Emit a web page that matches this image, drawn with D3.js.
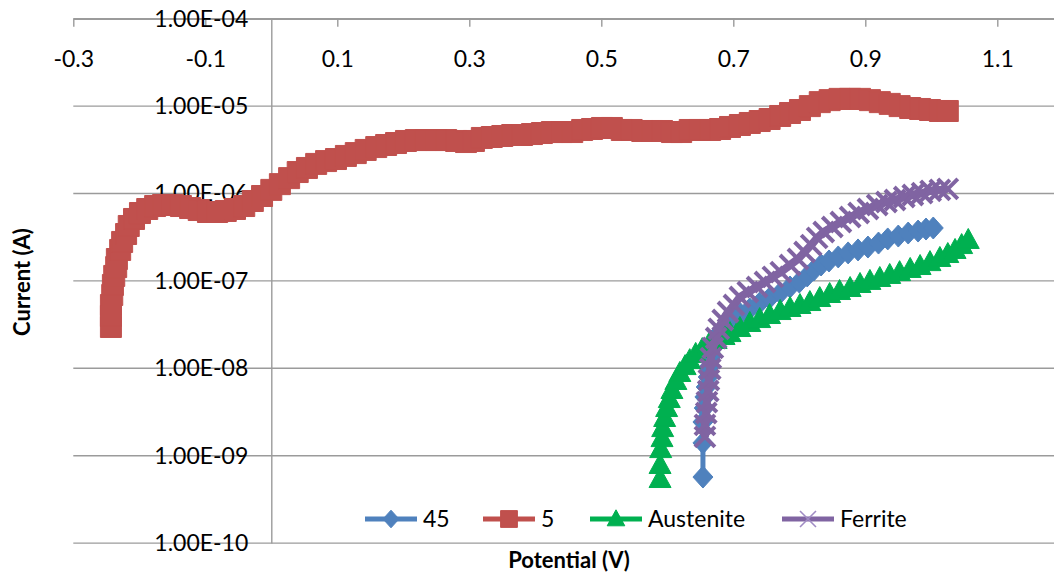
<!DOCTYPE html>
<html>
<head>
<meta charset="utf-8">
<script src="https://cdn.jsdelivr.net/npm/d3@7"></script>
<style>
  body { margin: 0; background: #fff; }
  svg { display: block; }
  text { font-family: Lato, "Open Sans", sans-serif; fill: #000; }
</style>
</head>
<body>
<svg id="chart" width="1054" height="579"></svg>
<script>
// Axis ticks
const xTickValues = [-0.3, -0.1, 0.1, 0.3, 0.5, 0.7, 0.9, 1.1];
const yTickValues = [1e-4, 1e-5, 1e-6, 1e-7, 1e-8, 1e-9, 1e-10];

// Series: [potential (V), current (A)]
const seriesNames = ["45", "5", "Austenite", "Ferrite"];
const seriesColors = ["#4F81BD", "#C0504D", "#00B050", "#8064A2"];

const data45 = [
  [0.654, 5.70e-10], [0.654, 1.40e-9], [0.654, 2.43e-9], [0.656, 3.51e-9], [0.657, 4.70e-9],
  [0.659, 6.11e-9], [0.662, 7.95e-9], [0.663, 1.03e-8], [0.666, 1.35e-8], [0.669, 1.71e-8],
  [0.674, 2.11e-8], [0.680, 2.60e-8], [0.689, 3.13e-8], [0.699, 3.66e-8], [0.711, 4.18e-8],
  [0.725, 4.77e-8], [0.740, 5.59e-8], [0.755, 6.37e-8], [0.771, 7.27e-8], [0.786, 8.52e-8],
  [0.800, 9.71e-8], [0.812, 1.14e-7], [0.822, 1.33e-7], [0.833, 1.52e-7], [0.845, 1.69e-7],
  [0.859, 1.88e-7], [0.874, 2.09e-7], [0.889, 2.26e-7], [0.904, 2.44e-7], [0.920, 2.71e-7],
  [0.934, 3.02e-7], [0.950, 3.26e-7], [0.965, 3.53e-7], [0.980, 3.72e-7], [0.992, 3.92e-7],
  [1.003, 4.03e-7]
];

const data5 = [
  [-0.243, 2.97e-8], [-0.243, 3.97e-8], [-0.243, 5.30e-8], [-0.241, 6.90e-8], [-0.240, 8.98e-8],
  [-0.238, 1.14e-7], [-0.235, 1.44e-7], [-0.234, 1.78e-7], [-0.229, 2.26e-7], [-0.226, 2.79e-7],
  [-0.220, 3.44e-7], [-0.216, 4.25e-7], [-0.208, 5.11e-7], [-0.199, 5.98e-7], [-0.188, 6.65e-7],
  [-0.176, 7.19e-7], [-0.164, 7.39e-7], [-0.150, 7.39e-7], [-0.137, 7.19e-7], [-0.123, 6.82e-7],
  [-0.110, 6.47e-7], [-0.096, 6.14e-7], [-0.082, 6.14e-7], [-0.069, 6.31e-7], [-0.055, 6.65e-7],
  [-0.041, 7.19e-7], [-0.028, 8.21e-7], [-0.014, 9.36e-7], [0.000, 1.10e-6], [0.013, 1.28e-6],
  [0.027, 1.50e-6], [0.040, 1.76e-6], [0.054, 1.96e-6], [0.068, 2.18e-6], [0.083, 2.35e-6],
  [0.098, 2.48e-6], [0.113, 2.69e-6], [0.128, 2.90e-6], [0.143, 3.15e-6], [0.159, 3.40e-6],
  [0.174, 3.59e-6], [0.189, 3.78e-6], [0.204, 3.99e-6], [0.219, 4.09e-6], [0.234, 4.09e-6],
  [0.250, 4.09e-6], [0.265, 4.09e-6], [0.280, 3.99e-6], [0.295, 3.88e-6], [0.307, 3.99e-6],
  [0.319, 4.32e-6], [0.334, 4.43e-6], [0.350, 4.55e-6], [0.365, 4.67e-6], [0.380, 4.67e-6],
  [0.395, 4.79e-6], [0.410, 4.92e-6], [0.425, 5.05e-6], [0.440, 5.05e-6], [0.456, 5.05e-6],
  [0.471, 5.33e-6], [0.486, 5.47e-6], [0.501, 5.62e-6], [0.516, 5.62e-6], [0.531, 5.33e-6],
  [0.546, 5.33e-6], [0.562, 5.19e-6], [0.577, 5.19e-6], [0.592, 5.19e-6], [0.607, 5.05e-6],
  [0.621, 5.05e-6], [0.634, 5.33e-6], [0.649, 5.33e-6], [0.665, 5.33e-6], [0.680, 5.47e-6],
  [0.695, 5.77e-6], [0.710, 6.08e-6], [0.725, 6.41e-6], [0.740, 6.75e-6], [0.755, 7.12e-6],
  [0.771, 7.71e-6], [0.786, 8.34e-6], [0.801, 9.02e-6], [0.816, 1.00e-5], [0.831, 1.11e-5],
  [0.846, 1.17e-5], [0.861, 1.21e-5], [0.877, 1.21e-5], [0.892, 1.21e-5], [0.907, 1.17e-5],
  [0.922, 1.11e-5], [0.937, 1.06e-5], [0.952, 1.00e-5], [0.968, 9.51e-6], [0.983, 9.27e-6],
  [0.998, 9.02e-6], [1.013, 8.79e-6], [1.025, 8.79e-6]
];

const dataAustenite = [
  [0.589, 5.41e-10], [0.589, 7.83e-10], [0.590, 1.19e-9], [0.592, 1.59e-9], [0.593, 2.07e-9],
  [0.596, 2.70e-9], [0.599, 3.51e-9], [0.603, 4.45e-9], [0.607, 5.65e-9], [0.613, 7.16e-9],
  [0.619, 8.84e-9], [0.627, 1.06e-8], [0.634, 1.24e-8], [0.643, 1.46e-8], [0.653, 1.66e-8],
  [0.663, 1.89e-8], [0.674, 2.11e-8], [0.686, 2.34e-8], [0.695, 2.53e-8], [0.710, 2.89e-8],
  [0.725, 3.30e-8], [0.740, 3.66e-8], [0.755, 4.07e-8], [0.771, 4.52e-8], [0.786, 4.90e-8],
  [0.801, 5.30e-8], [0.816, 5.73e-8], [0.831, 6.37e-8], [0.846, 7.08e-8], [0.861, 7.66e-8],
  [0.877, 8.29e-8], [0.892, 9.22e-8], [0.907, 1.00e-7], [0.922, 1.08e-7], [0.937, 1.17e-7],
  [0.952, 1.26e-7], [0.968, 1.37e-7], [0.983, 1.48e-7], [0.998, 1.64e-7], [1.013, 1.83e-7],
  [1.025, 2.03e-7], [1.036, 2.26e-7], [1.046, 2.57e-7], [1.056, 2.94e-7]
];

const dataFerrite = [
  [0.657, 1.64e-9], [0.657, 2.25e-9], [0.659, 3.08e-9], [0.660, 4.11e-9], [0.662, 5.50e-9],
  [0.663, 7.35e-9], [0.665, 9.82e-9], [0.666, 1.31e-8], [0.669, 1.71e-8], [0.674, 2.22e-8],
  [0.678, 2.82e-8], [0.684, 3.57e-8], [0.692, 4.41e-8], [0.701, 5.30e-8], [0.710, 6.54e-8],
  [0.722, 7.46e-8], [0.736, 8.52e-8], [0.748, 9.71e-8], [0.760, 1.11e-7], [0.772, 1.26e-7],
  [0.786, 1.52e-7], [0.798, 1.78e-7], [0.808, 2.14e-7], [0.818, 2.57e-7], [0.827, 3.10e-7],
  [0.837, 3.63e-7], [0.850, 4.14e-7], [0.863, 4.72e-7], [0.877, 5.38e-7], [0.890, 5.98e-7],
  [0.904, 6.65e-7], [0.918, 7.39e-7], [0.932, 7.99e-7], [0.945, 8.43e-7], [0.959, 9.12e-7],
  [0.972, 9.61e-7], [0.986, 1.01e-6], [0.999, 1.07e-6], [1.013, 1.10e-6], [1.025, 1.13e-6]
];

const seriesData = [data45, data5, dataAustenite, dataFerrite];

const width = 1054;
const svg = d3.select("#chart");

const x = d3.scaleLinear().domain([-0.3, 1.2]).range([73.3, 1063.3]);
const y = d3.scaleLog().domain([1e-10, 1e-4]).range([543.1, 18.7]);

const gridColor = "#9b9b9b";
const fontSize = 23;

const sciFormat = v => {
  const e = Math.round(Math.log10(v));
  return "1.00E" + (e < 0 ? "-" : "+") + String(Math.abs(e)).padStart(2, "0");
};

// horizontal gridlines
svg.append("g")
  .selectAll("line")
  .data(yTickValues)
  .join("line")
  .attr("x1", x(-0.3)).attr("x2", width)
  .attr("y1", d => y(d)).attr("y2", d => y(d))
  .attr("stroke", gridColor).attr("stroke-width", 1.4);

// potential axis, drawn along the top edge
const xAxis = svg.append("g")
  .attr("transform", `translate(0,${y(1e-4)})`)
  .call(d3.axisBottom(x).tickValues(xTickValues).tickSize(8).tickSizeOuter(0)
    .tickPadding(24).tickFormat(d => d.toFixed(1)));
xAxis.select(".domain").attr("stroke", gridColor).attr("stroke-width", 1.4);
xAxis.selectAll(".tick line").attr("stroke", gridColor).attr("stroke-width", 1.4);
xAxis.selectAll(".tick text").attr("font-size", fontSize).attr("font-family", null).attr("fill", "#000");

// current axis, crossing at 0 V
const yAxis = svg.append("g")
  .attr("transform", `translate(${x(0)},0)`)
  .call(d3.axisLeft(y).tickValues(yTickValues).tickSize(0).tickSizeOuter(0)
    .tickPadding(23).tickFormat(sciFormat));
yAxis.select(".domain").attr("stroke", gridColor).attr("stroke-width", 1.4);
yAxis.selectAll(".tick text").attr("font-size", fontSize).attr("font-family", null).attr("fill", "#000");

// marker shapes (s scales plot size down for the legend)
const markerPath = [
  s => `M0,${-11 * s}L${10 * s},0L0,${11 * s}L${-10 * s},0Z`,                       // diamond
  s => `M${-10.5 * s},${-10.5 * s}H${10.5 * s}V${10.5 * s}H${-10.5 * s}Z`,           // square
  s => `M0,${-11.5 * s}L${11 * s},${8.5 * s}L${-11 * s},${8.5 * s}Z`,                // triangle
  s => `M${-10 * s},${-10 * s}L${10 * s},${10 * s}M${-10 * s},${10 * s}L${10 * s},${-10 * s}` // cross
];

function drawMarker(sel, i, s) {
  const p = sel.append("path").attr("d", markerPath[i](s));
  if (i === 3) {
    p.attr("fill", "none").attr("stroke", seriesColors[i]).attr("stroke-width", 4);
  } else {
    p.attr("fill", seriesColors[i]).attr("stroke", seriesColors[i]).attr("stroke-width", 1);
  }
  return p;
}

const line = d3.line().x(d => x(d[0])).y(d => y(d[1]));

seriesData.forEach((data, i) => {
  const g = svg.append("g").attr("class", "series");
  g.append("path")
    .datum(data)
    .attr("d", line)
    .attr("fill", "none")
    .attr("stroke", seriesColors[i])
    .attr("stroke-width", i === 3 ? 8 : 5)
    .attr("stroke-linejoin", "round");
  g.selectAll("g.pt")
    .data(data)
    .join("g")
    .attr("class", "pt")
    .attr("transform", d => `translate(${x(d[0])},${y(d[1])})`)
    .each(function () { drawMarker(d3.select(this), i, 1); });
});

// legend
const legendY = 519;
const legendStarts = [365, 483, 590, 782];
const legend = svg.append("g");
seriesNames.forEach((name, i) => {
  const g = legend.append("g").attr("transform", `translate(${legendStarts[i]},${legendY})`);
  g.append("line").attr("x1", 0).attr("x2", 52).attr("y1", 0).attr("y2", 0)
    .attr("stroke", seriesColors[i]).attr("stroke-width", 5);
  const m = g.append("g").attr("transform", "translate(26,0)");
  drawMarker(m, i, 0.8);
  if (i === 3) m.select("path").attr("stroke", "#a08cc4").attr("stroke-width", 1.6);
  g.append("text").attr("x", 58).attr("y", 8).attr("font-size", fontSize).text(name);
});

// axis titles
svg.append("text")
  .attr("transform", `translate(30,282) rotate(-90)`)
  .attr("text-anchor", "middle")
  .attr("font-size", 22).attr("font-weight", "bold")
  .text("Current (A)");

svg.append("text")
  .attr("x", 569).attr("y", 568)
  .attr("text-anchor", "middle")
  .attr("font-size", 22).attr("font-weight", "bold")
  .text("Potential (V)");
</script>
</body>
</html>
